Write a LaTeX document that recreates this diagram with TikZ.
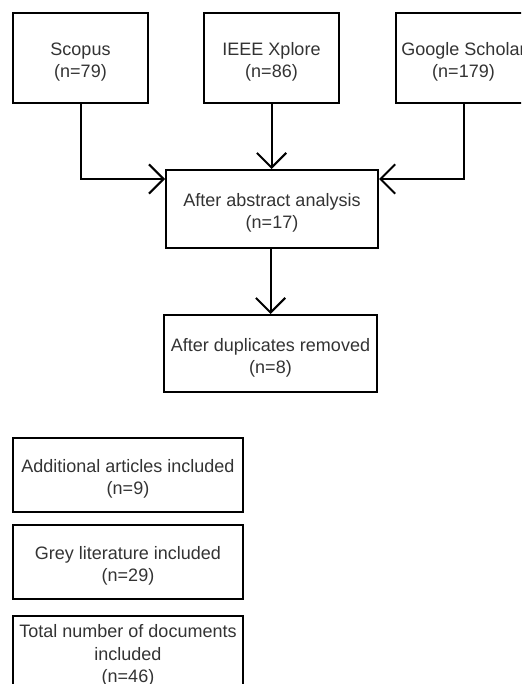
\documentclass[tikz,border=0pt]{standalone}
\usepackage{fontspec}
\setmainfont{Liberation Sans}
\usetikzlibrary{arrows.meta}
\begin{document}
\begin{tikzpicture}[x=0.75pt,y=-0.75pt,
  box/.style={draw=black,line width=1.5pt,inner sep=0pt},
  txt/.style={align=center,inner sep=0pt,yshift=-3pt,
    font=\fontsize{13.5pt}{16.5pt}\selectfont,text=black!80},
  src/.style={box,minimum width={135*0.75pt},minimum height={90*0.75pt}},
  mid/.style={box,minimum width={212*0.75pt},minimum height={78*0.75pt}},
  low/.style={box,minimum width={230*0.75pt},minimum height={74*0.75pt}},
  conn/.style={line width=1.5pt,-{Straight Barb[length=11pt,width=22pt]}}]
\useasboundingbox (0,0) rectangle (521,684);
\clip (0,0) rectangle (521,684);
\node[src,label={[txt]center:{Scopus\\(n=79)}}] (scopus) at (80.5,58) {};
\node[src,label={[txt]center:{IEEE Xplore\\(n=86)}}] (ieee) at (271.5,58) {};
\node[src,label={[txt]center:{Google Scholar\\(n=179)}}] (google) at (463.5,58) {};
\node[mid,label={[txt]center:{After abstract analysis\\(n=17)}}] (abs) at (272,209) {};
\node[box,minimum width={213*0.75pt},minimum height={77*0.75pt},label={[txt]center:{After duplicates removed\\(n=8)}}] (dup) at (270.5,353.5) {};
\node[low,label={[txt]center:{Additional articles included\\(n=9)}}] (add) at (128,475) {};
\node[low,label={[txt]center:{Grey literature included\\(n=29)}}] (grey) at (128,562) {};
\node[box,minimum width={230*0.75pt},minimum height={76*0.75pt},label={[txt,yshift=2pt]center:{Total number of documents\\included\\(n=46)}}] (total) at (128,654) {};
\draw[conn] (scopus.south) |- (abs.west |- 0,179);
\draw[conn] (google.south) |- (abs.east |- 0,179);
\draw[conn] (ieee.south) -- (ieee.south |- abs.north);
\draw[conn] (abs.south -| dup.north) -- (dup.north);
\end{tikzpicture}
\end{document}
